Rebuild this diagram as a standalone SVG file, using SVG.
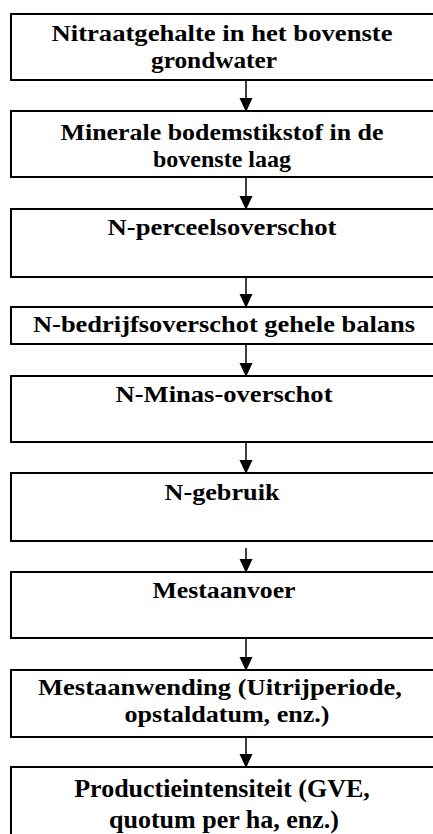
<svg xmlns="http://www.w3.org/2000/svg" width="433" height="834" viewBox="0 0 433 834">
<style>
.box{fill:#fff;stroke:#000;stroke-width:2}
.t{font-family:"Liberation Serif","Times New Roman",serif;font-weight:bold;font-size:24px;fill:#000;text-anchor:middle}
.tb{font-family:"Liberation Serif","Times New Roman",serif;font-weight:bold;font-size:26px;fill:#000;text-anchor:middle}
.sh{stroke:#000;stroke-width:1.5;fill:none}
.hd{fill:#000}
</style>
<rect width="433" height="834" fill="#fff"/>
<g id="connectors">
<line class="sh" x1="246" y1="80" x2="246" y2="100"/><polygon class="hd" points="239.5,98 252.5,98 246,112"/>
<line class="sh" x1="246" y1="177" x2="246" y2="197"/><polygon class="hd" points="239.5,196 252.5,196 246,210"/>
<line class="sh" x1="246" y1="277" x2="246" y2="295"/><polygon class="hd" points="239.5,294 252.5,294 246,308"/>
<line class="sh" x1="246" y1="344" x2="246" y2="364"/><polygon class="hd" points="239.5,363 252.5,363 246,377"/>
<line class="sh" x1="246" y1="442" x2="246" y2="461"/><polygon class="hd" points="239.5,460 252.5,460 246,474"/>
<line class="sh" x1="246" y1="548" x2="246" y2="560"/><polygon class="hd" points="239.5,559 252.5,559 246,573"/>
<line class="sh" x1="246" y1="638" x2="246" y2="658"/><polygon class="hd" points="239.5,657 252.5,657 246,671"/>
<line class="sh" x1="246" y1="737" x2="246" y2="755"/><polygon class="hd" points="239.5,754 252.5,754 246,768"/>
</g>
<g id="n1"><rect class="box" x="11" y="14" width="430" height="66"/><text class="t" x="222" y="41" textLength="341" lengthAdjust="spacingAndGlyphs">Nitraatgehalte in het bovenste</text><text class="t" x="214" y="68" textLength="126" lengthAdjust="spacingAndGlyphs">grondwater</text></g>
<g id="n2"><rect class="box" x="11" y="111" width="430" height="66"/><text class="t" x="222" y="140" textLength="323" lengthAdjust="spacingAndGlyphs">Minerale bodemstikstof in de</text><text class="t" x="222" y="167" textLength="138" lengthAdjust="spacingAndGlyphs">bovenste laag</text></g>
<g id="n3"><rect class="box" x="11" y="209" width="430" height="68"/><text class="t" x="222" y="235" textLength="229" lengthAdjust="spacingAndGlyphs">N-perceelsoverschot</text></g>
<g id="n4"><rect class="box" x="11" y="307" width="430" height="37"/><text class="t" x="224" y="332" textLength="382" lengthAdjust="spacingAndGlyphs">N-bedrijfsoverschot gehele balans</text></g>
<g id="n5"><rect class="box" x="11" y="376" width="430" height="66"/><text class="t" x="224" y="402" textLength="217" lengthAdjust="spacingAndGlyphs">N-Minas-overschot</text></g>
<g id="n6"><rect class="box" x="11" y="473" width="430" height="68"/><text class="t" x="222" y="500" textLength="115" lengthAdjust="spacingAndGlyphs">N-gebruik</text></g>
<g id="n7"><rect class="box" x="11" y="572" width="430" height="66"/><text class="t" x="224" y="598" textLength="143" lengthAdjust="spacingAndGlyphs">Mestaanvoer</text></g>
<g id="n8"><rect class="box" x="11" y="670" width="430" height="67"/><text class="t" x="220" y="695" textLength="364" lengthAdjust="spacingAndGlyphs">Mestaanwending (Uitrijperiode,</text><text class="t" x="227" y="722" textLength="205" lengthAdjust="spacingAndGlyphs">opstaldatum, enz.)</text></g>
<g id="n9"><rect class="box" x="11" y="767" width="430" height="90"/><text class="tb" x="222" y="797">Productieintensiteit (GVE,</text><text class="tb" x="224" y="828">quotum per ha, enz.)</text></g>
</svg>
